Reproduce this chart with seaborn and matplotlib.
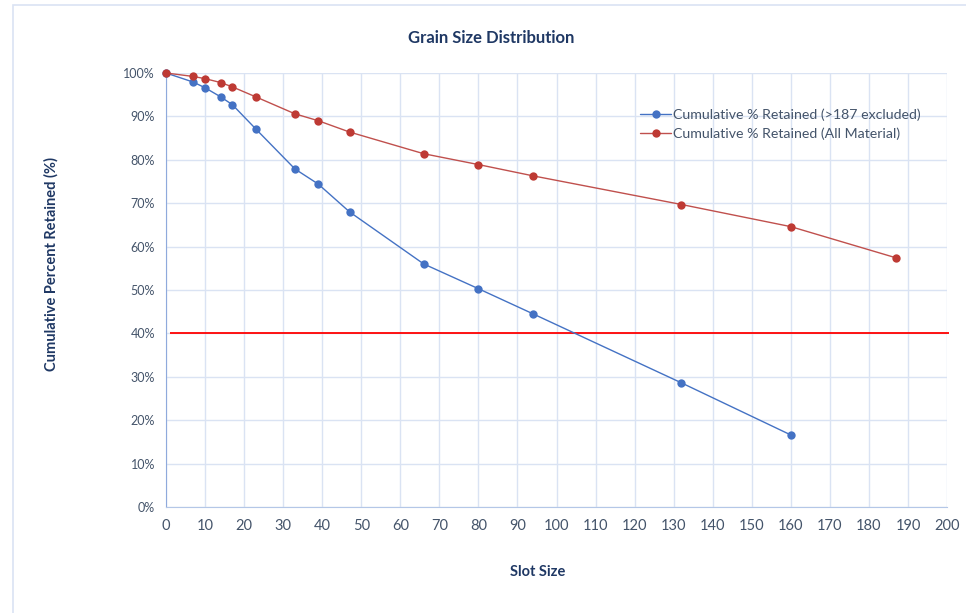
import matplotlib
matplotlib.use('Agg')
import matplotlib.pyplot as plt
from matplotlib.ticker import PercentFormatter, MultipleLocator
from matplotlib.patches import Rectangle
import pandas as pd
import seaborn as sns

# slot sizes and cumulative retained (%)
slot_size = [0, 7, 10, 14, 17, 23, 33, 39, 47, 66, 80, 94, 132, 160, 187]
retained_excl = [100, 97.9, 96.6, 94.5, 92.7, 87.1, 77.9, 74.4, 68.0, 56.0, 50.3, 44.5, 28.6, 16.6]
retained_all = [100, 99.2, 98.7, 97.8, 96.8, 94.5, 90.6, 89.0, 86.4, 81.4, 78.9, 76.3, 69.7, 64.6, 57.4]
threshold = 40
threshold_start = 1

label_excl = 'Cumulative % Retained (>187 excluded)'
label_all = 'Cumulative % Retained (All Material)'

df_excl = pd.DataFrame({'slot': slot_size[:len(retained_excl)], 'pct': retained_excl})
df_all = pd.DataFrame({'slot': slot_size, 'pct': retained_all})

sns.set_style('white')
plt.rcParams['font.family'] = ['Lato', 'DejaVu Sans']

text_col = '#44546a'
navy = '#1f3864'
grid_col = '#dae3f3'

fig = plt.figure(figsize=(9.66, 6.13), dpi=100)
fig.patches.append(Rectangle((13 / 966, -0.01), 1.0, 1 - 5 / 613 + 0.01, transform=fig.transFigure,
                             fill=False, edgecolor='#dae3f3', linewidth=1.2))
ax = fig.add_axes([166 / 966, 1 - 507 / 613, 781 / 966, 434 / 613])

sns.lineplot(data=df_excl, x='slot', y='pct', ax=ax, color='#4472c4', marker='o',
             markersize=6, markeredgewidth=0, linewidth=1.0, label=label_excl, zorder=3, clip_on=False)
sns.lineplot(data=df_all, x='slot', y='pct', ax=ax, color='#c0504d', marker='o',
             markersize=6, markerfacecolor='#be3a34', markeredgewidth=0, linewidth=1.0,
             label=label_all, zorder=4, clip_on=False)
ax.hlines(threshold, threshold_start, 200.5, colors='#ff0000', linewidth=1.3, zorder=2, clip_on=False)

ax.set_xlim(0, 200)
ax.set_ylim(0, 100)
ax.xaxis.set_major_locator(MultipleLocator(10))
ax.yaxis.set_major_locator(MultipleLocator(10))
ax.yaxis.set_major_formatter(PercentFormatter(xmax=100, decimals=0))
ax.grid(True, color=grid_col, linewidth=1.0)
ax.set_axisbelow(True)

for s in ['top', 'right']:
    ax.spines[s].set_visible(False)
ax.spines['left'].set_color('#8faadc')
ax.spines['bottom'].set_color('#b4c7e7')
ax.tick_params(axis='both', length=0, colors=text_col, labelsize=10.5)
ax.tick_params(axis='x', pad=9)
ax.tick_params(axis='y', labelsize=9, pad=8)

ax.set_xlabel('Slot Size', fontsize=10.5, fontweight='bold', color=navy)
ax.set_ylabel('Cumulative Percent Retained (%)', fontsize=10.5, fontweight='bold', color=navy)
ax.xaxis.set_label_coords(0.476, -0.133)
ax.yaxis.set_label_coords(-0.138, 0.56)
ax.text(0.416, 1.081, 'Grain Size Distribution', transform=ax.transAxes, ha='center', va='center',
        fontsize=12, fontweight='bold', color=navy)

leg = ax.legend(loc='upper left', bbox_to_anchor=(0.6, 0.932), frameon=False, fontsize=10.2,
                handlelength=2.2, handletextpad=0.1, labelspacing=0.5, borderaxespad=0)
for t in leg.get_texts():
    t.set_color(text_col)

fig.savefig('out.png', dpi=100)
